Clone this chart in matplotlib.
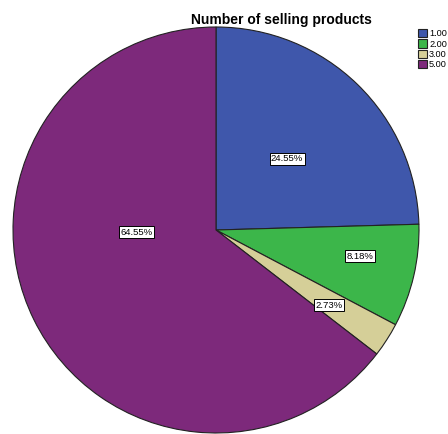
import matplotlib.pyplot as plt

plt.rcParams['font.family'] = ['Liberation Sans', 'DejaVu Sans']

categories = ['1.00', '2.00', '3.00', '5.00']
percents = [24.55, 8.18, 2.73, 64.55]
colors = ['#3f57ab', '#3cb64a', '#d5cf98', '#7d297b']

# where each percentage box sits, in pie units (radius = 1)
label_pos = [(0.35, 0.35), (0.71, -0.13), (0.555, -0.37), (-0.39, -0.01)]

fig = plt.figure(figsize=(4.48, 4.34), dpi=100)
ax = fig.add_axes([13 / 448, 1 / 434, 406 / 448, 406 / 434])

wedges, _ = ax.pie(percents, colors=colors, startangle=90, counterclock=False,
                   wedgeprops=dict(edgecolor='#222222', linewidth=0.8))
ax.set_xlim(-1.0, 1.0)
ax.set_ylim(-1.0, 1.0)
ax.set_aspect('equal')

for (x, y), p in zip(label_pos, percents):
    ax.text(x, y, f'{p:.2f}%', ha='center', va='center', fontsize=6.8,
            bbox=dict(boxstyle='square,pad=0.15', fc='white', ec='black', lw=0.7))

fig.text(281 / 448, 1 - 20 / 434, 'Number of selling products', ha='center',
         va='center', fontsize=10, fontweight='bold')

# legend squeezed into the top-right corner so the labels still fit
fig.legend(wedges, categories, loc='upper left', bbox_to_anchor=(418 / 448, 1 - 29 / 434),
           frameon=False, fontsize=6.6, handlelength=1.0, handleheight=1.0,
           handletextpad=0.2, labelspacing=0.12, borderaxespad=0, borderpad=0)

fig.savefig('out.png', dpi=100)
